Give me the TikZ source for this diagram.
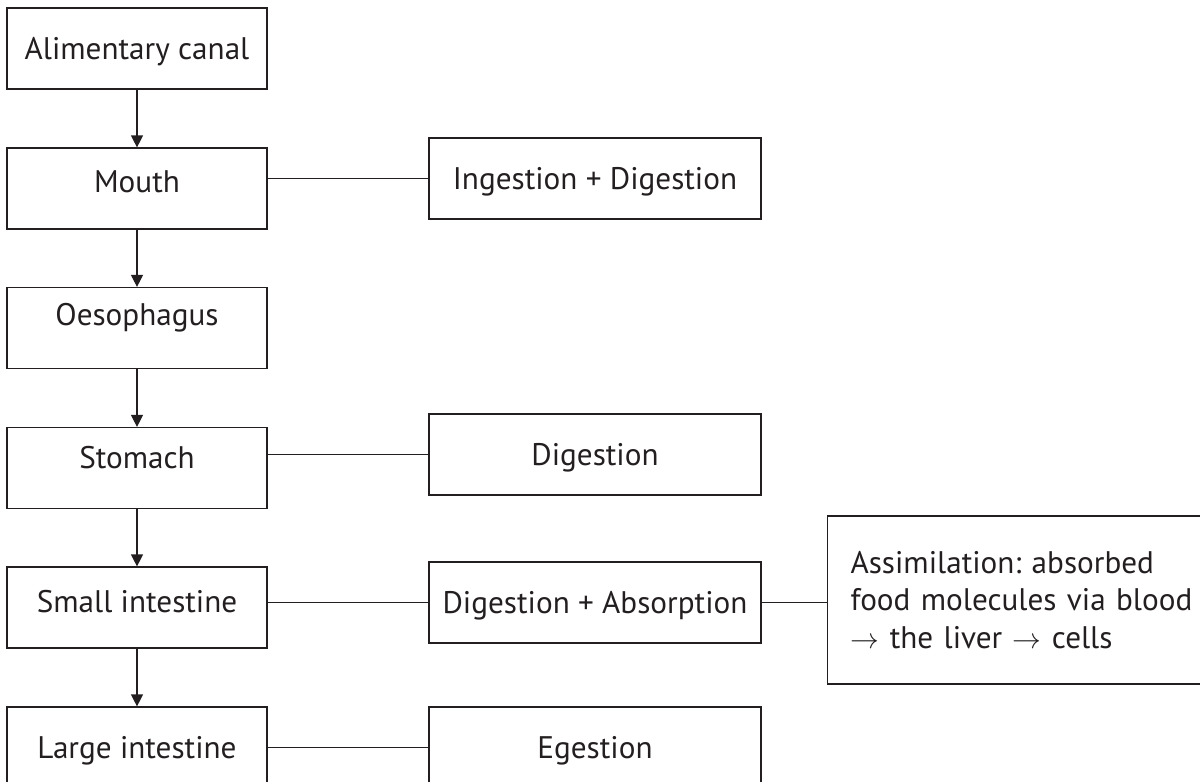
\documentclass[tikz,border=0pt]{standalone}
\usepackage{fontspec}
\setmainfont{PT Sans}
\frenchspacing
\usetikzlibrary{arrows.meta}
\definecolor{ink}{HTML}{231F20}

\begin{document}
\begin{tikzpicture}[x=0.5pt,y=-0.5pt,
  every node/.style={text=ink,font=\fontsize{15.6pt}{18.75pt}\selectfont},
  stage/.style={draw=ink,line width=0.6pt,minimum width=130pt,minimum height=40.5pt,
    inner sep=0pt,text height=11pt,text depth=#1},
  stage/.default=0pt,
  role/.style={stage,minimum width=166pt},
  flow/.style={draw=ink,line width=0.6pt,-{Triangle[width=6pt,length=6pt]}},
  link/.style={draw=ink,line width=0.6pt}]
  \useasboundingbox (0,0) rectangle (1200,782);
  \node[stage] (canal) at (137,48.5) {Alimentary canal};
  \node[stage=7.5pt] (mouth) at (137,188.5) {Mouth};
  \node[stage=14pt] (oeso) at (137,328) {Oesophagus};
  \node[stage=11pt] (stomach) at (137,468) {Stomach};
  \node[stage=6pt] (small) at (137,607.5) {Small intestine};
  \node[stage] (large) at (137,747.5) {Large intestine};
  \node[role] (ingest) at (595,178.5) {Ingestion + Digestion};
  \node[role] (digest) at (595,454.5) {Digestion};
  \node[role] (absorb) at (595,602.5) {Digestion + Absorption};
  \node[role] (egest) at (595,747.5) {Egestion};
  \node[draw=ink,line width=0.6pt,anchor=west,minimum height=84pt,inner xsep=11.5pt,
    text width=190pt,align=left] (assim) at (827,600)
    {Assimilation: absorbed\\food molecules via blood\\$\rightarrow$ the liver $\rightarrow$ cells};
  \draw[flow] (canal) -- (mouth);
  \draw[flow] (mouth) -- (oeso);
  \draw[flow] (oeso) -- (stomach);
  \draw[flow] (stomach) -- (small);
  \draw[flow] (small) -- (large);
  \draw[link] (mouth.east |- ingest.west) -- (ingest.west);
  \draw[link] (stomach.east |- digest.west) -- (digest.west);
  \draw[link] (small.east |- absorb.west) -- (absorb.west);
  \draw[link] (large.east |- egest.west) -- (egest.west);
  \draw[link] (absorb.east) -- (absorb.east -| assim.west);
\end{tikzpicture}
\end{document}
